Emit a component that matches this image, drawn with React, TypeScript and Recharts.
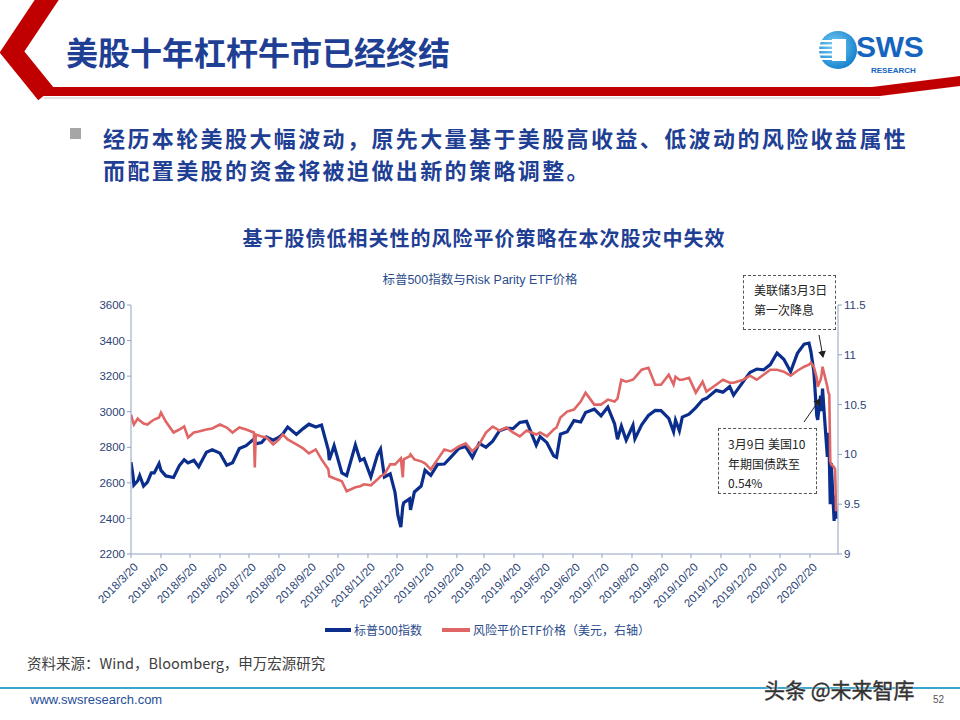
import React from 'react';
import { LineChart, Line, XAxis, YAxis } from 'recharts';

// DATA
const dates = [
  '2018-03-20', '2018-03-22', '2018-03-23', '2018-03-27', '2018-03-29', '2018-04-02', '2018-04-06', '2018-04-10',
  '2018-04-13', '2018-04-18', '2018-04-20', '2018-04-25', '2018-05-03', '2018-05-09', '2018-05-14', '2018-05-18',
  '2018-05-24', '2018-05-29', '2018-06-06', '2018-06-12', '2018-06-20', '2018-06-27', '2018-07-03', '2018-07-10',
  '2018-07-17', '2018-07-25', '2018-07-26', '2018-07-27', '2018-08-02', '2018-08-07', '2018-08-14', '2018-08-20',
  '2018-08-24', '2018-08-29', '2018-09-07', '2018-09-14', '2018-09-20', '2018-09-27', '2018-10-03', '2018-10-10',
  '2018-10-11', '2018-10-16', '2018-10-24', '2018-10-29', '2018-11-07', '2018-11-12', '2018-11-16', '2018-11-23',
  '2018-11-30', '2018-12-03', '2018-12-07', '2018-12-13', '2018-12-18', '2018-12-21', '2018-12-24', '2018-12-26',
  '2018-12-27', '2019-01-02', '2019-01-03', '2019-01-07', '2019-01-14', '2019-01-18', '2019-01-24', '2019-01-31',
  '2019-02-07', '2019-02-14', '2019-02-22', '2019-03-01', '2019-03-08', '2019-03-15', '2019-03-22', '2019-03-29',
  '2019-04-05', '2019-04-12', '2019-04-19', '2019-04-26', '2019-05-03', '2019-05-13', '2019-05-17', '2019-05-24',
  '2019-05-31', '2019-06-03', '2019-06-07', '2019-06-14', '2019-06-21', '2019-06-28', '2019-07-03', '2019-07-12',
  '2019-07-19', '2019-07-26', '2019-08-02', '2019-08-05', '2019-08-09', '2019-08-14', '2019-08-21', '2019-08-23',
  '2019-08-30', '2019-09-06', '2019-09-13', '2019-09-19', '2019-09-27', '2019-10-02', '2019-10-04', '2019-10-08',
  '2019-10-11', '2019-10-18', '2019-10-25', '2019-11-01', '2019-11-05', '2019-11-15', '2019-11-22', '2019-11-29',
  '2019-12-03', '2019-12-13', '2019-12-20', '2019-12-27', '2020-01-03', '2020-01-10', '2020-01-17', '2020-01-24',
  '2020-01-31', '2020-02-07', '2020-02-14', '2020-02-19', '2020-02-21', '2020-02-24', '2020-02-27', '2020-02-28',
  '2020-03-02', '2020-03-03', '2020-03-04', '2020-03-06', '2020-03-09', '2020-03-10', '2020-03-11', '2020-03-12',
  '2020-03-13', '2020-03-16', '2020-03-17', '2020-03-18',
];

// 标普500指数
const spx = [
  2716, 2643, 2588, 2612, 2641, 2582, 2604, 2656,
  2656, 2708, 2670, 2639, 2630, 2697, 2730, 2712,
  2727, 2690, 2772, 2786, 2767, 2699, 2713, 2793,
  2809, 2846, 2837, 2819, 2827, 2858, 2840, 2857,
  2875, 2914, 2872, 2905, 2930, 2914, 2925, 2785,
  2728, 2809, 2656, 2641, 2814, 2726, 2736, 2633,
  2760, 2790, 2633, 2651, 2546, 2417, 2351, 2467,
  2488, 2510, 2448, 2549, 2582, 2671, 2642, 2704,
  2706, 2746, 2793, 2804, 2743, 2822, 2800, 2834,
  2893, 2907, 2905, 2940, 2946, 2812, 2860, 2826,
  2752, 2744, 2873, 2887, 2950, 2942, 2996, 3014,
  2977, 3026, 2932, 2845, 2919, 2840, 2924, 2847,
  2926, 2979, 3007, 3006, 2962, 2887, 2952, 2893,
  2970, 2986, 3023, 3067, 3075, 3120, 3110, 3141,
  3093, 3169, 3221, 3240, 3235, 3265, 3330, 3295,
  3225, 3328, 3380, 3386, 3338, 3226, 2979, 2954,
  3090, 3003, 3130, 2972, 2746, 2882, 2741, 2480,
  2711, 2386, 2529, 2398,
];

// 风险平价ETF价格（美元）
const riskParity = [
  10.40, 10.33, 10.30, 10.36, 10.34, 10.31, 10.30, 10.33,
  10.35, 10.37, 10.42, 10.33, 10.22, 10.25, 10.28, 10.17,
  10.22, 10.23, 10.25, 10.26, 10.30, 10.27, 10.22, 10.27,
  10.25, 10.22, 9.87, 10.20, 10.18, 10.17, 10.10, 10.15,
  10.20, 10.15, 10.10, 10.06, 10.01, 10.05, 9.95, 9.85,
  9.78, 9.76, 9.73, 9.63, 9.67, 9.68, 9.70, 9.69,
  9.75, 9.78, 9.80, 9.90, 9.90, 9.93, 9.96, 9.77,
  9.95, 9.98, 10.00, 9.95, 9.93, 9.91, 9.85, 9.95,
  10.05, 10.03, 10.08, 10.11, 10.03, 10.10, 10.22, 10.28,
  10.24, 10.27, 10.22, 10.18, 10.24, 10.20, 10.22, 10.18,
  10.25, 10.27, 10.37, 10.43, 10.45, 10.53, 10.62, 10.50,
  10.50, 10.55, 10.53, 10.56, 10.75, 10.73, 10.75, 10.77,
  10.85, 10.87, 10.70, 10.70, 10.80, 10.70, 10.78, 10.75,
  10.75, 10.77, 10.62, 10.73, 10.63, 10.70, 10.75, 10.72,
  10.72, 10.75, 10.79, 10.75, 10.80, 10.85, 10.85, 10.83,
  10.79, 10.84, 10.88, 10.90, 10.92, 10.88, 10.77, 10.68,
  10.75, 10.80, 10.88, 10.80, 10.68, 10.62, 10.60, 9.93,
  9.90, 9.87, 9.85, 9.43,
];

const xTicks = [
  '2018-03-20', '2018-04-20', '2018-05-20', '2018-06-20', '2018-07-20', '2018-08-20', '2018-09-20', '2018-10-20',
  '2018-11-20', '2018-12-20', '2019-01-20', '2019-02-20', '2019-03-20', '2019-04-20', '2019-05-20', '2019-06-20',
  '2019-07-20', '2019-08-20', '2019-09-20', '2019-10-20', '2019-11-20', '2019-12-20', '2020-01-20', '2020-02-20',
];
const xDomain = ['2018-03-20', '2020-03-20'];
const leftTicks = [2200, 2400, 2600, 2800, 3000, 3200, 3400, 3600];
const rightTicks = [9, 9.5, 10, 10.5, 11, 11.5];

const toTs = (s: string) => {
  const [y, m, d] = s.split('-').map(Number);
  return Date.UTC(y, m - 1, d);
};
const fmtDate = (ts: number) => {
  const d = new Date(ts);
  return `${d.getUTCFullYear()}/${d.getUTCMonth() + 1}/${d.getUTCDate()}`;
};

const data = dates.map((d, i) => ({ t: toTs(d), spx: spx[i], rp: riskParity[i] }));

// STYLES
const CJK = '"Noto Sans CJK SC", "Noto Sans", sans-serif';
const LATIN = '"Liberation Sans", Arial, "Noto Sans CJK SC", sans-serif';
const NAVY = '#1F3F94';
const TICK_TEXT = '#2B4374';
const AXIS = '#8FA2C4';
const BLUE = '#0B2E8C';
const RED = '#E06666';

const XTick = (props: any) => {
  const { x, y, payload } = props;
  return (
    <text
      x={x + 5}
      y={y + 5}
      transform={`rotate(-45 ${x + 5} ${y + 5})`}
      textAnchor="end"
      dy="0.35em"
      fontSize={11.5}
      fontFamily={LATIN}
      fill={TICK_TEXT}
    >
      {fmtDate(payload.value)}
    </text>
  );
};

const Header = () => (
  <svg width={960} height={110} style={{ position: 'absolute', left: 0, top: 0 }}>
    <path d="M52 -8 L12 52 L46 94" fill="none" stroke="#C00000" strokeWidth={20} strokeLinejoin="miter" />
    <polygon points="40,87 872,87 960,76 960,86 880,96 44,96" fill="#C00000" />
    <line x1={44} y1={98} x2={880} y2={98} stroke="#D9D9D9" strokeWidth={1.5} />
    <text x={66} y={65} fontSize={32} fontWeight="bold" fontFamily={CJK} fill={NAVY}>
      美股十年杠杆牛市已经终结
    </text>
    <defs>
      <radialGradient id="logoGrad" cx="0.4" cy="0.4" r="0.7">
        <stop offset="0%" stopColor="#7FD3F5" />
        <stop offset="100%" stopColor="#0A78C8" />
      </radialGradient>
    </defs>
    <circle cx={838} cy={50} r={19} fill="url(#logoGrad)" />
    <rect x={832} y={39} width={14} height={22} fill="#FFFFFF" />
    {[0, 1, 2, 3, 4].map((k) => (
      <rect key={k} x={819} y={40 + k * 4.5} width={13} height={2} fill="#FFFFFF" />
    ))}
    <text x={856} y={57} fontSize={30} fontWeight="bold" fontFamily={LATIN} fill="#1565C0" letterSpacing={-0.3}>SWS</text>
    <text x={871} y={73} fontSize={8} fontWeight="bold" fontFamily={LATIN} fill="#1565C0">RESEARCH</text>
  </svg>
);

const Arrows = () => (
  <svg width={960} height={720} style={{ position: 'absolute', left: 0, top: 0, pointerEvents: 'none' }}>
    <defs>
      <marker id="ah" markerWidth={8} markerHeight={8} refX={6} refY={4} orient="auto" markerUnits="userSpaceOnUse">
        <path d="M0,0 L7,4 L0,8 Z" fill="#222" />
      </marker>
    </defs>
    <line x1={819} y1={335} x2={823} y2={357} stroke="#222" strokeWidth={1} markerEnd="url(#ah)" />
    <line x1={804} y1={422} x2={820} y2={399} stroke="#222" strokeWidth={1} markerEnd="url(#ah)" />
  </svg>
);

const boxStyle: React.CSSProperties = {
  position: 'absolute',
  border: '1.2px dashed #555',
  background: '#FFFFFF',
  fontFamily: CJK,
  fontSize: 12,
  color: '#222',
  lineHeight: '19.5px',
  boxSizing: 'border-box',
};

const bulletLine: React.CSSProperties = {
  position: 'absolute',
  left: 103,
  fontFamily: CJK,
  fontSize: 22,
  fontWeight: 'bold',
  letterSpacing: 2.4,
  color: NAVY,
  lineHeight: '32px',
  height: 32,
  whiteSpace: 'nowrap',
};

// COMPONENT
const App: React.FC = () => {
  return (
    <div style={{ position: 'absolute', left: 0, top: 0, width: 960, height: 720, background: '#FFFFFF', overflow: 'hidden' }}>
      <Header />

      <div style={{ position: 'absolute', left: 70, top: 128, width: 11, height: 11, background: '#A6A6A6' }} />
      <div style={{ ...bulletLine, top: 121 }}>经历本轮美股大幅波动，原先大量基于美股高收益、低波动的风险收益属性</div>
      <div style={{ ...bulletLine, top: 153 }}>而配置美股的资金将被迫做出新的策略调整。</div>

      <div style={{ position: 'absolute', left: 0, width: 968, top: 223, textAlign: 'center', fontFamily: CJK, fontSize: 20, fontWeight: 'bold', color: NAVY, letterSpacing: 1 }}>
        基于股债低相关性的风险平价策略在本次股灾中失效
      </div>
      <div style={{ position: 'absolute', left: 0, width: 960, top: 269, textAlign: 'center', fontFamily: LATIN, fontSize: 12.5, color: '#2B4C8C' }}>
        标普500指数与Risk Parity ETF价格
      </div>

      <LineChart
        width={960}
        height={720}
        data={data}
        margin={{ top: 305, right: 62, bottom: 106, left: 71 }}
        style={{ position: 'absolute', left: 0, top: 0 }}
      >
        <XAxis
          dataKey="t"
          type="number"
          domain={[toTs(xDomain[0]), toTs(xDomain[1])]}
          ticks={xTicks.map(toTs)}
          tick={<XTick />}
          height={60}
          tickSize={4}
          stroke={AXIS}
          interval={0}
          allowDataOverflow
        />
        <YAxis
          yAxisId="left"
          domain={[2200, 3600]}
          ticks={leftTicks}
          width={60}
          tickSize={4}
          stroke={AXIS}
          tick={{ fill: TICK_TEXT, fontSize: 11.5, fontFamily: LATIN }}
          interval={0}
        />
        <YAxis
          yAxisId="right"
          orientation="right"
          domain={[9, 11.5]}
          ticks={rightTicks}
          width={60}
          tickSize={4}
          stroke={AXIS}
          tick={{ fill: TICK_TEXT, fontSize: 11.5, fontFamily: LATIN }}
          interval={0}
        />
        <Line yAxisId="left" type="linear" dataKey="spx" stroke={BLUE} strokeWidth={3.2} dot={false} isAnimationActive={false} />
        <Line yAxisId="right" type="linear" dataKey="rp" stroke={RED} strokeWidth={2.6} dot={false} isAnimationActive={false} />
      </LineChart>

      <div style={{ ...boxStyle, left: 743, top: 275, width: 93, height: 55, padding: '4px 0 0 10px' }}>
        美联储3月3日<br />第一次降息
      </div>
      <div style={{ ...boxStyle, left: 718, top: 428, width: 99, height: 66, padding: '5px 0 0 9px' }}>
        3月9日 美国10<br />年期国债跌至<br />0.54%
      </div>
      <Arrows />

      {/* legend */}
      <div style={{ position: 'absolute', left: 325, top: 628, width: 26, height: 4, background: BLUE }} />
      <div style={{ position: 'absolute', left: 354, top: 621, fontFamily: CJK, fontSize: 12, color: '#2B4C8C' }}>标普500指数</div>
      <div style={{ position: 'absolute', left: 442, top: 628, width: 28, height: 4, background: RED }} />
      <div style={{ position: 'absolute', left: 473, top: 621, fontFamily: CJK, fontSize: 12, color: '#2B4C8C' }}>风险平价ETF价格（美元，右轴）</div>

      {/* footer */}
      <div style={{ position: 'absolute', left: 27, top: 652, fontFamily: CJK, fontSize: 14.5, color: '#404040' }}>
        资料来源：Wind，Bloomberg，申万宏源研究
      </div>
      <div style={{ position: 'absolute', left: 0, top: 687, width: 960, height: 2, background: '#3AA6CF' }} />
      <div style={{ position: 'absolute', left: 30, top: 692, fontFamily: LATIN, fontSize: 13, color: '#1F4E9A' }}>www.swsresearch.com</div>
      <div style={{ position: 'absolute', left: 933, top: 694, fontFamily: LATIN, fontSize: 10, color: '#555' }}>52</div>
      <div style={{ position: 'absolute', left: 764, top: 674, fontFamily: CJK, fontSize: 21, color: '#333', WebkitTextStroke: '0.4px #333', textShadow: '0 0 2px #fff, 0 0 2px #fff' }}>
        头条 @未来智库
      </div>
    </div>
  );
};

export default App;
